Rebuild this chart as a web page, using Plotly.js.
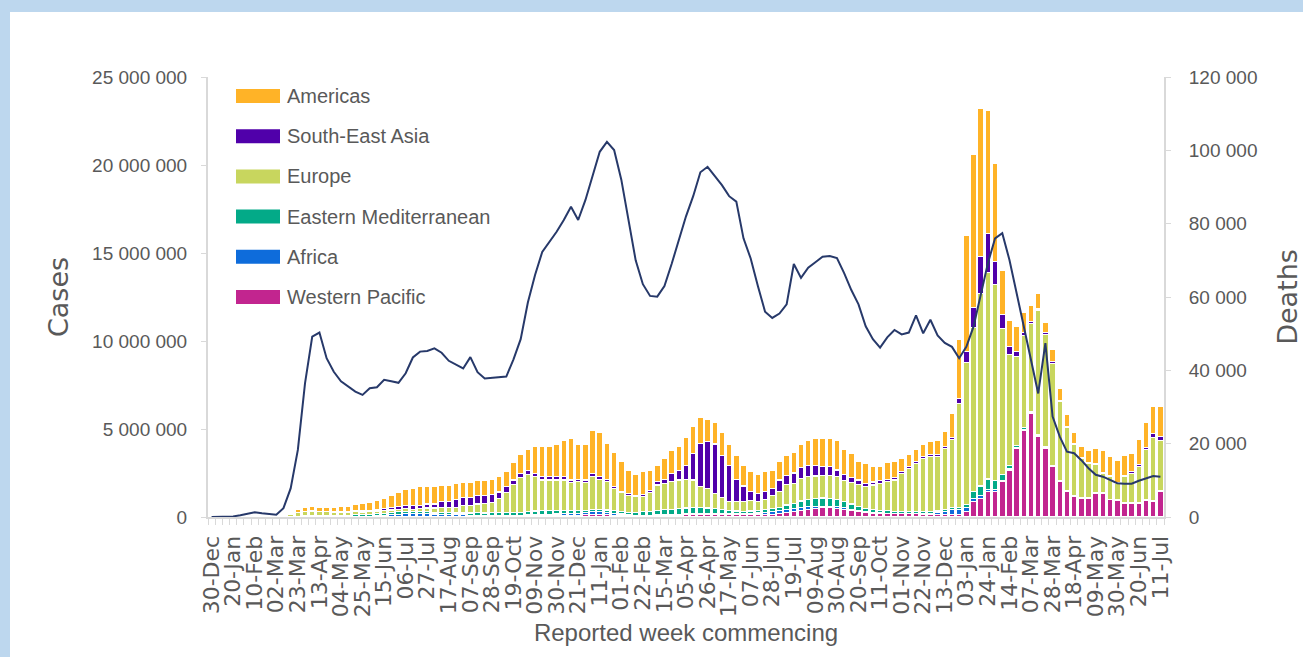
<!DOCTYPE html>
<html>
<head>
<meta charset="utf-8">
<script src="https://cdn.plot.ly/plotly-3.0.1.min.js"></script>
<style>
html, body { margin: 0; padding: 0; background: #BDD7EE; width: 1303px; height: 657px; overflow: hidden; }
#panel { position: absolute; left: 10px; top: 12px; width: 1293px; height: 645px; background: #ffffff; }
#chart { width: 1293px; height: 645px; }
</style>
</head>
<body>
<div id="panel"><div id="chart"></div></div>
<script>
// Week commencing (category axis)
const weeks = [
'2019-12-30',
'2020-01-06','2020-01-13','2020-01-20','2020-01-27','2020-02-03','2020-02-10','2020-02-17','2020-02-24','2020-03-02','2020-03-09','2020-03-16','2020-03-23','2020-03-30','2020-04-06','2020-04-13','2020-04-20','2020-04-27','2020-05-04','2020-05-11','2020-05-18','2020-05-25','2020-06-01','2020-06-08','2020-06-15','2020-06-22','2020-06-29','2020-07-06','2020-07-13','2020-07-20','2020-07-27','2020-08-03','2020-08-10','2020-08-17','2020-08-24','2020-08-31','2020-09-07','2020-09-14','2020-09-21','2020-09-28','2020-10-05','2020-10-12','2020-10-19','2020-10-26','2020-11-02','2020-11-09','2020-11-16','2020-11-23','2020-11-30','2020-12-07','2020-12-14','2020-12-21','2020-12-28',
'2021-01-04','2021-01-11','2021-01-18','2021-01-25','2021-02-01','2021-02-08','2021-02-15','2021-02-22','2021-03-01','2021-03-08','2021-03-15','2021-03-22','2021-03-29','2021-04-05','2021-04-12','2021-04-19','2021-04-26','2021-05-03','2021-05-10','2021-05-17','2021-05-24','2021-05-31','2021-06-07','2021-06-14','2021-06-21','2021-06-28','2021-07-05','2021-07-12','2021-07-19','2021-07-26','2021-08-02','2021-08-09','2021-08-16','2021-08-23','2021-08-30','2021-09-06','2021-09-13','2021-09-20','2021-09-27','2021-10-04','2021-10-11','2021-10-18','2021-10-25','2021-11-01','2021-11-08','2021-11-15','2021-11-22','2021-11-29','2021-12-06','2021-12-13','2021-12-20','2021-12-27',
'2022-01-03','2022-01-10','2022-01-17','2022-01-24','2022-01-31','2022-02-07','2022-02-14','2022-02-21','2022-02-28','2022-03-07','2022-03-14','2022-03-21','2022-03-28','2022-04-04','2022-04-11','2022-04-18','2022-04-25','2022-05-02','2022-05-09','2022-05-16','2022-05-23','2022-05-30','2022-06-06','2022-06-13','2022-06-20','2022-06-27','2022-07-04','2022-07-11'
];

// Tick labels shown every third week
const tickLabels = ['30-Dec','20-Jan','10-Feb','02-Mar','23-Mar','13-Apr','04-May','25-May','15-Jun','06-Jul','27-Jul','17-Aug','07-Sep','28-Sep','19-Oct','09-Nov','30-Nov','21-Dec','11-Jan','01-Feb','22-Feb','15-Mar','05-Apr','26-Apr','17-May','07-Jun','28-Jun','19-Jul','09-Aug','30-Aug','20-Sep','11-Oct','01-Nov','22-Nov','13-Dec','03-Jan','24-Jan','14-Feb','07-Mar','28-Mar','18-Apr','09-May','30-May','20-Jun','11-Jul'];

// Weekly cases by WHO region
const westernPacific = [
30,20,100,2000,12000,22000,30000,12000,5000,5000,4000,5000,10000,
20000,20000,20000,20000,15000,10000,10000,10000,10000,10000,10000,20000,30000,50000,50000,
50000,50000,50000,50000,50000,50000,50000,50000,50000,50000,50000,50000,50000,50000,50000,50000,
60000,70000,80000,90000,100000,100000,100000,100000,120000,
120000,130000,120000,100000,80000,60000,50000,50000,60000,70000,80000,90000,
100000,120000,130000,150000,160000,170000,170000,150000,130000,120000,120000,130000,
140000,140000,180000,250000,300000,380000,450000,500000,520000,520000,500000,450000,
380000,300000,250000,220000,200000,190000,180000,180000,180000,180000,170000,150000,
140000,130000,120000,150000,300000,870000,1060000,1440000,1440000,2000000,2670000,3900000,
4940000,5890000,4560000,3900000,2860000,2000000,1440000,1160000,1060000,1060000,1350000,1350000,
970000,930000,780000,780000,780000,930000,870000,1440000
];
const africa = [
0,0,0,0,0,0,0,0,0,0,0,1000,3000,
5000,7000,10000,10000,12000,15000,20000,30000,35000,40000,50000,70000,90000,110000,130000,
130000,130000,130000,120000,110000,100000,80000,70000,60000,60000,50000,50000,50000,50000,50000,50000,
60000,60000,60000,60000,70000,80000,100000,120000,130000,
170000,170000,150000,120000,90000,70000,60000,50000,50000,50000,50000,50000,
50000,50000,50000,50000,50000,50000,50000,50000,60000,70000,80000,100000,
130000,160000,180000,180000,170000,150000,130000,120000,100000,90000,80000,70000,
60000,50000,40000,40000,30000,30000,30000,30000,30000,30000,30000,40000,
100000,200000,300000,300000,250000,200000,150000,120000,100000,80000,60000,50000,
40000,40000,40000,40000,40000,30000,30000,30000,30000,30000,30000,30000,
30000,30000,30000,30000,30000,30000,30000,30000
];
const easternMediterranean = [
0,0,0,0,0,0,0,0,1000,5000,8000,10000,20000,
30000,40000,50000,50000,60000,70000,80000,90000,100000,110000,120000,130000,140000,130000,120000,
120000,110000,110000,100000,100000,100000,100000,110000,120000,130000,130000,140000,150000,160000,170000,180000,
200000,210000,210000,200000,180000,170000,150000,140000,140000,
150000,140000,130000,130000,140000,150000,170000,190000,210000,250000,280000,300000,
320000,340000,350000,340000,300000,250000,220000,180000,150000,140000,140000,140000,
150000,170000,200000,250000,300000,380000,420000,450000,460000,440000,400000,350000,
300000,250000,200000,160000,140000,130000,120000,120000,110000,100000,100000,100000,
100000,100000,100000,100000,150000,400000,550000,600000,550000,350000,200000,130000,
100000,80000,60000,50000,40000,40000,30000,20000,20000,20000,20000,20000,
20000,20000,20000,20000,20000,20000,20000,20000
];
const europe = [
0,0,0,0,0,0,0,0,3000,20000,70000,140000,220000,
250000,270000,230000,220000,200000,190000,170000,160000,140000,130000,130000,140000,140000,150000,160000,
140000,180000,220000,240000,290000,300000,320000,400000,430000,500000,550000,580000,790000,1120000,1600000,1970000,
2080000,1950000,1750000,1750000,1750000,1750000,1600000,1640000,1590000,
1850000,1700000,1610000,1280000,1070000,950000,880000,900000,1060000,1450000,1500000,1570000,
1630000,1630000,1570000,1180000,1120000,880000,660000,520000,560000,570000,610000,530000,
580000,730000,890000,1170000,1130000,1290000,1300000,1260000,1300000,1330000,1300000,1180000,
1210000,1270000,1230000,1400000,1530000,1660000,1770000,2150000,2450000,2740000,3030000,3140000,
3090000,3470000,3860000,5910000,8100000,9280000,10940000,11740000,11110000,8300000,6300000,5020000,
5210000,5000000,7100000,6400000,5800000,4500000,3600000,2910000,2200000,1950000,1600000,1080000,
1270000,930000,1460000,1650000,2030000,2830000,3610000,2860000
];
const southEastAsia = [
0,0,0,0,0,0,0,0,0,0,200,1000,3000,
5000,10000,15000,20000,25000,30000,40000,50000,60000,70000,90000,100000,130000,150000,190000,
190000,190000,230000,230000,340000,340000,420000,490000,460000,490000,450000,450000,380000,340000,230000,230000,
230000,190000,190000,190000,190000,190000,150000,150000,120000,
200000,150000,120000,100000,90000,80000,80000,90000,120000,180000,230000,470000,
530000,810000,1510000,2460000,2650000,2800000,2370000,2050000,1240000,860000,490000,450000,
450000,430000,650000,500000,600000,600000,650000,620000,510000,480000,390000,390000,
300000,230000,190000,170000,150000,140000,140000,130000,120000,110000,100000,100000,
100000,100000,120000,280000,600000,1150000,2080000,2200000,1300000,800000,450000,300000,
200000,120000,100000,80000,70000,50000,50000,40000,40000,40000,40000,50000,
60000,70000,90000,100000,120000,150000,200000,200000
];
const americas = [
0,0,0,0,0,0,0,0,0,1000,6000,40000,150000,
240000,240000,225000,230000,240000,275000,270000,360000,435000,490000,530000,580000,700000,830000,920000,
980000,1060000,1020000,1020000,910000,910000,910000,830000,870000,830000,870000,870000,870000,870000,990000,1060000,
1180000,1510000,1710000,1710000,1860000,2050000,2390000,1950000,2050000,
2450000,2520000,2050000,1920000,1670000,1360000,1200000,1290000,1170000,950000,1190000,1320000,
1360000,1570000,1560000,1480000,1270000,1210000,1320000,1200000,1330000,1190000,1130000,1090000,
1120000,1040000,1040000,1170000,1150000,1350000,1390000,1520000,1580000,1610000,1670000,1400000,
1360000,1040000,1130000,900000,800000,930000,900000,700000,650000,700000,700000,750000,
800000,850000,1390000,3320000,6600000,8700000,8420000,7000000,5600000,2470000,1500000,1400000,
1110000,870000,840000,600000,690000,680000,650000,640000,650000,700000,860000,1270000,
1080000,1260000,1120000,1020000,1420000,1440000,1540000,1720000
];

// Weekly deaths (right axis)
const deaths = [
0,10,20,150,500,800,1300,1000,700,600,2400,7800,18300,
36500,49200,50300,43300,39600,37000,35500,34200,33300,35100,35400,37400,37000,36600,39200,
43500,45100,45300,46000,44800,42600,41500,40500,43600,39500,37800,37900,38000,38300,43000,48500,
58500,66000,72300,75000,77800,81000,84600,81000,86400,
93000,99600,102300,100100,92000,81000,70000,63500,60300,60100,63000,69000,
75500,82000,87500,94000,95500,93000,90500,87500,86000,76000,70500,63000,
56000,54300,55500,58000,69000,65200,68000,69500,71000,71200,70600,66500,
61900,58000,52000,48500,46200,49000,51000,49800,50300,55000,50100,53800,
49500,47500,46400,43300,46400,51900,61000,69200,76000,77400,70100,61000,
51900,41900,33700,47400,27400,21900,17800,17400,15500,13300,11500,11000,
10100,9200,9100,9100,9900,10500,11200,11000
];

const regionNames = ['Americas', 'South-East Asia', 'Europe', 'Eastern Mediterranean', 'Africa', 'Western Pacific'];
const regionColors = ['#FFB327', '#5000AA', '#C8D65E', '#03AA88', '#0E6CDB', '#C2258F'];
const regionValues = [americas, southEastAsia, europe, easternMediterranean, africa, westernPacific];

const SANS = '"Liberation Sans", Arial, sans-serif';
const WIDE = '"DejaVu Sans", sans-serif';
const GREY = '#595959';
const AXIS = '#D9D9D9';

// stacked from bottom (Western Pacific) to top (Americas)
const traces = [];
for (let k = regionNames.length - 1; k >= 0; k--) {
  traces.push({
    type: 'bar', name: regionNames[k], x: weeks, y: regionValues[k],
    marker: { color: regionColors[k], line: { color: '#ffffff', width: 1.1 } },
    showlegend: false, hoverinfo: 'skip'
  });
}
traces.push({
  type: 'scatter', mode: 'lines', name: 'Deaths', x: weeks, y: deaths, yaxis: 'y2',
  line: { color: '#27396A', width: 2 }, showlegend: false, hoverinfo: 'skip'
});

const tickVals = weeks.filter((d, i) => i % 3 === 0);

// legend with wide swatches, as in the original
const shapes = [];
const annotations = [];
const plotTop = 77, plotH = 440, plotLeft = 208, plotW = 956;
regionNames.forEach((name, k) => {
  const yc = 96 + 40.2 * k;
  const yp = (plotTop + plotH - yc) / plotH;
  const half = 7 / plotH;
  shapes.push({
    type: 'rect', xref: 'paper', yref: 'paper',
    x0: (236 - plotLeft) / plotW, x1: (280 - plotLeft) / plotW,
    y0: yp - half, y1: yp + half,
    fillcolor: regionColors[k], line: { width: 0 }, layer: 'above'
  });
  annotations.push({
    xref: 'paper', yref: 'paper', x: (285 - plotLeft) / plotW, y: yp,
    xanchor: 'left', yanchor: 'middle', showarrow: false, text: name,
    font: { family: SANS, size: 20, color: GREY }
  });
});

const layout = {
  width: 1293, height: 645,
  margin: { l: 198, r: 139, t: 65, b: 140 },
  paper_bgcolor: '#ffffff', plot_bgcolor: '#ffffff',
  barmode: 'stack', bargap: 0.22,
  separators: '. ',
  showlegend: false,
  xaxis: {
    type: 'date',
    range: ['2019-12-26 12:00', '2022-07-14 12:00'],
    tickmode: 'array', tickvals: tickVals, ticktext: tickLabels,
    tickangle: -90, ticks: '', ticklabelstandoff: 8,
    tickfont: { family: WIDE, size: 22, color: GREY },
    showline: true, linecolor: AXIS, linewidth: 2,
    showgrid: false, zeroline: false,
    minor: { ticks: 'outside', ticklen: 6, tickcolor: AXIS, tickwidth: 1, dtick: 7 * 86400000, tick0: '2019-12-26 12:00', showgrid: false },
    title: { text: 'Reported week commencing', font: { family: SANS, size: 24, color: GREY }, standoff: 8 },
    automargin: false
  },
  yaxis: {
    range: [0, 25000000], dtick: 5000000, tickformat: ',d',
    tickfont: { family: SANS, size: 19, color: GREY },
    showline: true, linecolor: AXIS, linewidth: 2,
    ticks: 'outside', ticklen: 5, tickcolor: AXIS, ticklabelstandoff: 10,
    showgrid: false, zeroline: false,
    title: { text: 'Cases', font: { family: WIDE, size: 27, color: GREY }, standoff: 16 },
    automargin: false
  },
  yaxis2: {
    overlaying: 'y', side: 'right',
    range: [0, 120000], dtick: 20000, tickformat: ',d',
    tickfont: { family: SANS, size: 19, color: GREY },
    showline: true, linecolor: AXIS, linewidth: 2,
    ticks: 'outside', ticklen: 5, tickcolor: AXIS, ticklabelstandoff: 14,
    showgrid: false, zeroline: false,
    title: { text: 'Deaths', font: { family: WIDE, size: 27, color: GREY }, standoff: 22 },
    automargin: false
  },
  shapes: shapes,
  annotations: annotations
};

Plotly.newPlot('chart', traces, layout, { displayModeBar: false, staticPlot: true });
</script>
</body>
</html>
